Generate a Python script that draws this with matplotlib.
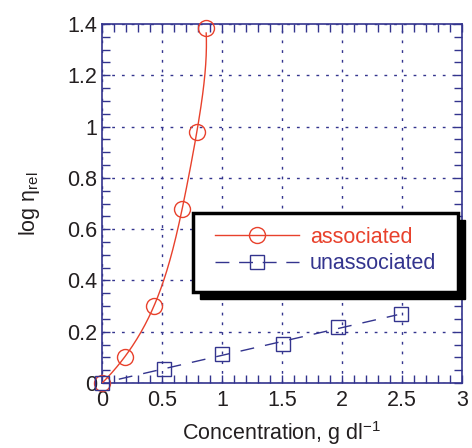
import matplotlib
matplotlib.use("Agg")
import matplotlib.pyplot as plt
import numpy as np
from matplotlib.patches import Rectangle
from matplotlib.ticker import FormatStrFormatter, MultipleLocator

# 読み取り値
assoc_c = [0.0, 0.19, 0.43, 0.67, 0.79, 0.866]
assoc_log = [0.0, 0.10, 0.30, 0.68, 0.98, 1.385]
unassoc_c = [0.0, 0.52, 1.0, 1.51, 1.97, 2.49]
unassoc_log = [0.0, 0.055, 0.113, 0.153, 0.218, 0.269]

RED = "#e8412c"
BLUE = "#33348e"
TXT = "#231f20"

plt.rcParams["font.family"] = ["Liberation Sans", "DejaVu Sans"]
plt.rcParams["mathtext.fontset"] = "custom"
plt.rcParams["mathtext.rm"] = "Liberation Sans"
plt.rcParams["mathtext.it"] = "Liberation Sans:italic"

fig = plt.figure(figsize=(4.72, 4.48), dpi=100)
ax = fig.add_axes([0.2161, 0.1451, 0.7627, 0.8013])

# フィット曲線
yy = np.linspace(0, max(assoc_log) - 0.02, 200)
px = np.polyfit(assoc_log, assoc_c, 4)
ax.plot(np.polyval(px, yy), yy, color=RED, lw=1, zorder=3)
xx = np.linspace(0.14, 2.46, 100)
pu = np.polyfit(unassoc_c, unassoc_log, 1)
ax.plot(xx, np.polyval(pu, xx), color=BLUE, lw=1, dashes=(10, 8), zorder=3)

ax.plot(assoc_c, assoc_log, ls="none", marker="o", ms=11.5, mfc="none",
        mec=RED, mew=1, clip_on=False, zorder=4)
ax.plot(unassoc_c, unassoc_log, ls="none", marker="s", ms=10.5, mfc="none",
        mec=BLUE, mew=1, clip_on=False, zorder=4)

ax.set_xlim(0, 3)
ax.set_ylim(0, 1.4)
ax.xaxis.set_major_locator(MultipleLocator(0.5))
ax.xaxis.set_minor_locator(MultipleLocator(0.1))
ax.yaxis.set_major_locator(MultipleLocator(0.2))
ax.yaxis.set_minor_locator(MultipleLocator(0.05))
ax.xaxis.set_major_formatter(FormatStrFormatter("%g"))
ax.yaxis.set_major_formatter(FormatStrFormatter("%g"))
ax.tick_params(which="both", direction="in", top=True, right=True,
               color=BLUE, length=6, width=1, labelsize=15.5, labelcolor=TXT)
ax.tick_params(axis="x", pad=5)
for s in ax.spines.values():
    s.set_color(BLUE)
    s.set_linewidth(1.2)
ax.grid(True, which="major", color=BLUE, lw=1, linestyle=(0, (2, 5)), zorder=1)
ax.set_axisbelow(True)

ax.set_xlabel("Concentration, g dl$^{-1}$", fontsize=15.5, color=TXT, labelpad=6)
ax.set_ylabel("log η$_{\\mathrm{rel}}$", fontsize=15.5, color=TXT, labelpad=18)

# 凡例の枠と影
x0, x1, y0, y1 = 0.253, 0.989, 0.253, 0.474
ax.add_patch(Rectangle((x0 + 0.02, y0 - 0.02), x1 - x0, y1 - y0,
                       transform=ax.transAxes, facecolor="black",
                       edgecolor="black", zorder=5, clip_on=False))
ax.add_patch(Rectangle((x0, y0), x1 - x0, y1 - y0, transform=ax.transAxes,
                       facecolor="white", edgecolor="black", lw=2.5,
                       zorder=6, clip_on=False))

h1, = ax.plot([], [], color=RED, lw=1, marker="o", ms=11.5, mfc="none", mec=RED)
h2, = ax.plot([], [], color=BLUE, lw=1, dashes=(10, 7), marker="s", ms=10.5,
              mfc="none", mec=BLUE)
leg = ax.legend([h1, h2], ["associated", "unassociated"], loc="center",
                bbox_to_anchor=((x0 + x1) / 2, (y0 + y1) / 2 + 0.005),
                frameon=False, fontsize=15.5, handlelength=3.9,
                handletextpad=0.5, labelspacing=0.25)
leg.set_zorder(7)
for t, c in zip(leg.get_texts(), [RED, BLUE]):
    t.set_color(c)

fig.savefig("out.png", dpi=100)
